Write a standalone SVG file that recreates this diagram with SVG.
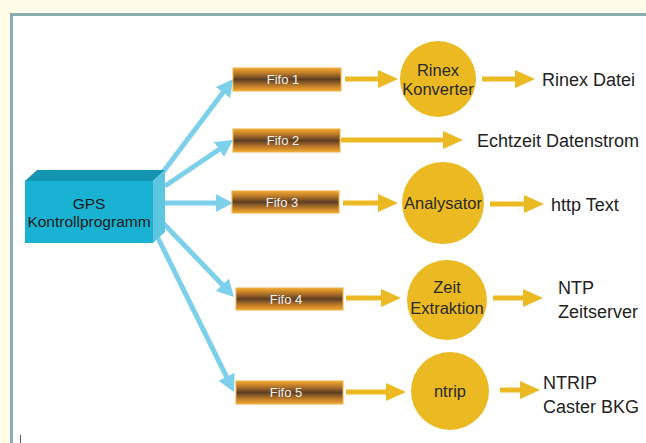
<svg xmlns="http://www.w3.org/2000/svg" width="646" height="443" viewBox="0 0 646 443">
<defs>
<style>
.lbl{font-family:"Liberation Sans",Arial,sans-serif;font-size:18px;fill:#222}
.clbl{font-family:"Liberation Sans",Arial,sans-serif;font-size:16.5px;fill:#2a2a2a;text-anchor:middle}
.glbl{font-family:"Liberation Sans",Arial,sans-serif;font-size:15.5px;fill:#1a1a1a;text-anchor:middle}
.flbl{font-family:"Liberation Sans",Arial,sans-serif;font-size:13px;fill:#f4f0ea;text-anchor:middle}
.fifo{fill:url(#fifoGrad);stroke:#f0b040;stroke-width:1}
.circ{fill:#ebb922}
.blue{stroke:#7dd0ea;stroke-width:5;fill:none;marker-end:url(#bh)}
.orng{stroke:#ebb922;stroke-width:5;fill:none;marker-end:url(#oh)}
</style>
<linearGradient id="fifoGrad" x1="0" y1="0" x2="0" y2="1">
<stop offset="0" stop-color="#f0a82e"/>
<stop offset="0.22" stop-color="#bf7c2a"/>
<stop offset="0.5" stop-color="#5c3e24"/>
<stop offset="0.78" stop-color="#bf7c2a"/>
<stop offset="1" stop-color="#f0a82e"/>
</linearGradient>
<marker id="bh" markerUnits="userSpaceOnUse" markerWidth="20" markerHeight="20" refX="5" refY="9" orient="auto">
<path d="M0,0 L17,9 L0,18 z" fill="#7dd0ea"/>
</marker>
<marker id="oh" markerUnits="userSpaceOnUse" markerWidth="22" markerHeight="20" refX="8" refY="9" orient="auto">
<path d="M0,0 L20,9 L0,18 z" fill="#ebb922"/>
</marker>
</defs>
<rect x="0" y="0" width="646" height="443" fill="#fffde7"/>
<rect x="11.5" y="14.5" width="700" height="500" fill="#ffffff" stroke="#8aaeae" stroke-width="3"/>
<line x1="20.5" y1="435" x2="20.5" y2="443" stroke="#555" stroke-width="1"/>

<g id="connectors">
<line class="blue" x1="163" y1="172" x2="226" y2="88.6"/>
<line class="blue" x1="165" y1="186" x2="223.1" y2="146.7"/>
<line class="blue" x1="165" y1="203" x2="221" y2="203"/>
<line class="blue" x1="162" y1="222" x2="225.7" y2="288.3"/>
<line class="blue" x1="157" y1="236" x2="228.7" y2="381.2"/>
<line class="orng" x1="345" y1="79" x2="386" y2="79"/>
<line class="orng" x1="482" y1="79" x2="523" y2="79"/>
<line class="orng" x1="341" y1="140" x2="451" y2="140"/>
<line class="orng" x1="343" y1="203" x2="386" y2="203"/>
<line class="orng" x1="490" y1="204" x2="532" y2="204"/>
<line class="orng" x1="346" y1="298" x2="389" y2="298"/>
<line class="orng" x1="493" y1="298" x2="531" y2="298"/>
<line class="orng" x1="346" y1="392" x2="394" y2="392"/>
<line class="orng" x1="500" y1="390" x2="528" y2="390"/>
</g>

<g id="gps">
<polygon points="25,181 37,170 165,170 153,181" fill="#1496b2"/>
<polygon points="153,181 165,170 165,232 153,243" fill="#5cc6e0"/>
<rect x="25" y="181" width="128" height="62" fill="#1ab2d2"/>
<text class="glbl" x="89" y="209">GPS</text>
<text class="glbl" x="89" y="227">Kontrollprogramm</text>
</g>

<g id="fifo1"><rect class="fifo" x="233" y="68" width="108" height="23"/><text class="flbl" x="283" y="84">Fifo 1</text></g>
<g id="fifo2"><rect class="fifo" x="233" y="129" width="107" height="23"/><text class="flbl" x="283" y="145">Fifo 2</text></g>
<g id="fifo3"><rect class="fifo" x="232" y="191" width="107" height="22"/><text class="flbl" x="282" y="207">Fifo 3</text></g>
<g id="fifo4"><rect class="fifo" x="236" y="288" width="107" height="22"/><text class="flbl" x="286" y="304">Fifo 4</text></g>
<g id="fifo5"><rect class="fifo" x="236" y="381" width="107" height="23"/><text class="flbl" x="286" y="397">Fifo 5</text></g>

<g id="rinex"><circle class="circ" cx="438" cy="79" r="38"/><text class="clbl" x="438" y="76">Rinex</text><text class="clbl" x="438" y="95">Konverter</text></g>
<g id="analysator"><circle class="circ" cx="443" cy="203" r="41"/><text class="clbl" x="443" y="209">Analysator</text></g>
<g id="zeit"><circle class="circ" cx="447" cy="300" r="40"/><text class="clbl" x="447" y="293">Zeit</text><text class="clbl" x="447" y="314">Extraktion</text></g>
<g id="ntrip"><circle class="circ" cx="450" cy="391" r="39"/><text class="clbl" x="450" y="397">ntrip</text></g>

<g id="out1"><text class="lbl" x="542" y="86">Rinex Datei</text></g>
<g id="out2"><text class="lbl" x="477" y="147">Echtzeit Datenstrom</text></g>
<g id="out3"><text class="lbl" x="551" y="211">http Text</text></g>
<g id="out4"><text class="lbl" x="558" y="294">NTP</text><text class="lbl" x="558" y="318">Zeitserver</text></g>
<g id="out5"><text class="lbl" x="543" y="389">NTRIP</text><text class="lbl" x="543" y="413">Caster BKG</text></g>
</svg>
